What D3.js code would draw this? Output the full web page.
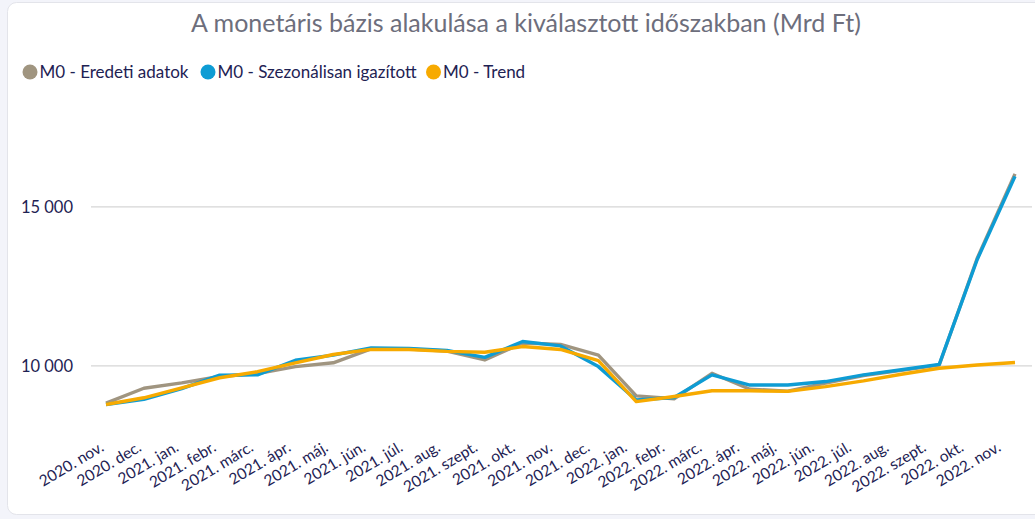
<!DOCTYPE html>
<html>
<head>
<meta charset="utf-8">
<title>M0</title>
<script src="https://cdn.jsdelivr.net/npm/d3@7"></script>
<style>
  body { margin: 0; background: #f3f4fa; }
  svg { display: block; font-family: Lato, "Open Sans", sans-serif; }
</style>
</head>
<body>
<div id="chart"></div>
<script>
// months on the x axis
var months = ["2020. nov.", "2020. dec.", "2021. jan.", "2021. febr.", "2021. márc.", "2021. ápr.",
  "2021. máj.", "2021. jún.", "2021. júl.", "2021. aug.", "2021. szept.", "2021. okt.", "2021. nov.",
  "2021. dec.", "2022. jan.", "2022. febr.", "2022. márc.", "2022. ápr.", "2022. máj.", "2022. jún.",
  "2022. júl.", "2022. aug.", "2022. szept.", "2022. okt.", "2022. nov."];

// Mrd Ft
var eredeti = [8830, 9300, 9470, 9670, 9760, 9980, 10100, 10540, 10530, 10470, 10190, 10720, 10680,
  10340, 9060, 8970, 9770, 9270, 9210, 9460, 9700, 9860, 10030, 13380, 16040];
var szezonalis = [8790, 8950, 9290, 9710, 9720, 10180, 10340, 10570, 10550, 10490, 10270, 10770, 10630,
  9980, 8930, 9010, 9720, 9400, 9400, 9510, 9720, 9880, 10050, 13340, 15960];
var trend = [8790, 9000, 9310, 9630, 9820, 10100, 10360, 10520, 10520, 10460, 10430, 10610, 10520,
  10170, 8880, 9040, 9220, 9220, 9200, 9350, 9530, 9740, 9930, 10030, 10110];

var yTicks = [10000, 15000];

var seriesNames = ["M0 - Eredeti adatok", "M0 - Szezonálisan igazított", "M0 - Trend"];
var colors = ["#a09580", "#0e9cd4", "#f7aa00"];

var W = 1035, H = 519;
var svg = d3.select("#chart").append("svg").attr("width", W).attr("height", H);

// card
svg.append("rect")
  .attr("x", 7.5).attr("y", 2.5)
  .attr("width", W + 10).attr("height", 512)
  .attr("rx", 9)
  .style("fill", "#fff").style("stroke", "#e3e4ea");

svg.append("text")
  .attr("x", 526).attr("y", 32)
  .attr("text-anchor", "middle")
  .style("font-size", "25px").style("fill", "#6d6e7c")
  .text("A monetáris bázis alakulása a kiválasztott időszakban (Mrd Ft)");

// legend
var legX = [30, 208, 433.5];
var leg = svg.selectAll(".leg").data(seriesNames).enter().append("g")
  .attr("transform", function(d, i) { return "translate(" + legX[i] + ",72)"; });
leg.append("circle").attr("r", 7.5).style("fill", function(d, i) { return colors[i]; });
leg.append("text").attr("x", 9.5).attr("y", 5.5)
  .style("font-size", "17px").style("fill", "#1e2253")
  .text(function(d) { return d; });

var x = d3.scalePoint().domain(months).range([106, 1015]);
var xLab = d3.scalePoint().domain(months).range([105, 1002]);
var y = d3.scaleLinear().domain([7000, 18000]).range([461.4, 111.5]);

// gridlines + y labels
svg.selectAll(".grid").data(yTicks).enter().append("line")
  .attr("x1", 91).attr("x2", 1032)
  .attr("y1", function(d) { return y(d); }).attr("y2", function(d) { return y(d); })
  .style("stroke", "#d6d6d6").style("stroke-width", 1.3);

svg.selectAll(".ylab").data(yTicks).enter().append("text")
  .attr("x", 73).attr("y", function(d) { return y(d) + 6; })
  .attr("text-anchor", "end")
  .style("font-size", "16.5px").style("fill", "#1e2253")
  .text(function(d) { return d3.format(",")(d).replace(",", " "); });

// x labels
svg.selectAll(".xlab").data(months).enter().append("text")
  .attr("text-anchor", "end")
  .attr("transform", function(d) { return "translate(" + xLab(d) + ",450) rotate(-31)"; })
  .style("font-size", "15.5px").style("fill", "#1e2253")
  .text(function(d) { return d; });

var line = d3.line()
  .x(function(d, i) { return x(months[i]); })
  .y(function(d) { return y(d); });

[eredeti, szezonalis, trend].forEach(function(s, i) {
  svg.append("path")
    .datum(s)
    .attr("d", line)
    .style("fill", "none")
    .style("stroke", colors[i])
    .style("stroke-width", 3.4)
    .style("stroke-linejoin", "round");
});
</script>
</body>
</html>
